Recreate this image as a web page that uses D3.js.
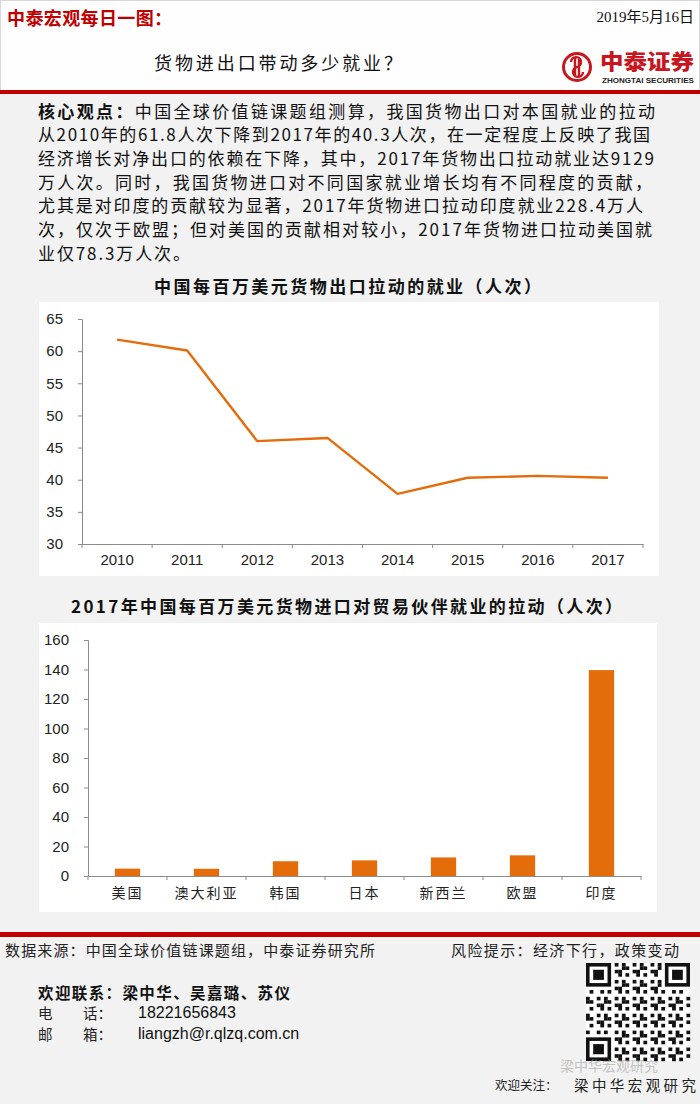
<!DOCTYPE html>
<html>
<head>
<meta charset="utf-8">
<script src="https://cdn.jsdelivr.net/npm/d3@7"></script>
<style>
  body { margin: 0; background: #f2f2f2; }
  text { font-family: "Noto Sans CJK SC", sans-serif; }
  .num { font-family: "Liberation Sans Narrow", "Liberation Sans", Arial, sans-serif; }
</style>
</head>
<body>
<div id="page"></div>
<script>
// chart 1: employment driven by each $1M of goods exports
var years = ["2010", "2011", "2012", "2013", "2014", "2015", "2016", "2017"];
var exportJobs = [61.8, 60.1, 46.0, 46.5, 37.8, 40.3, 40.6, 40.3];
var lineTicks = [30, 35, 40, 45, 50, 55, 60, 65];

// chart 2: partner employment driven by each $1M of goods imports (2017)
var partners = ["美国", "澳大利亚", "韩国", "日本", "新西兰", "欧盟", "印度"];
var importJobs = [5.0, 4.9, 10.0, 10.6, 12.6, 14.0, 139.6];
var barTicks = [0, 20, 40, 60, 80, 100, 120, 140, 160];

var summaryLines = [
  "核心观点：中国全球价值链课题组测算，我国货物出口对本国就业的拉动",
  "从2010年的61.8人次下降到2017年的40.3人次，在一定程度上反映了我国",
  "经济增长对净出口的依赖在下降，其中，2017年货物出口拉动就业达9129",
  "万人次。同时，我国货物进口对不同国家就业增长均有不同程度的贡献，",
  "尤其是对印度的贡献较为显著，2017年货物进口拉动印度就业228.4万人",
  "次，仅次于欧盟；但对美国的贡献相对较小，2017年货物进口拉动美国就",
  "业仅78.3万人次。"
];
var summaryEnds = [655, 650, 654, 652, 643, 652, 190];

var red = "#c00000";
var orange = "#E46C0A";
var axisGray = "#8c8c8c";

var svg = d3.select("#page").append("svg")
  .attr("width", 700)
  .attr("height", 1104);

// page background + header
svg.append("rect").attr("width", 700).attr("height", 1104).attr("fill", "#f2f2f2");
svg.append("rect").attr("x", 0.5).attr("y", 0.5).attr("width", 699).attr("height", 90)
  .attr("fill", "#fefefe").attr("stroke", "#d8d8d8");

svg.append("text").attr("x", 7).attr("y", 17).attr("dominant-baseline", "central")
  .attr("font-size", 18).attr("font-weight", "bold").attr("fill", red)
  .attr("textLength", 165).attr("lengthAdjust", "spacing")
  .text("中泰宏观每日一图：");

svg.append("text").attr("x", 694).attr("y", 17).attr("dominant-baseline", "central")
  .attr("text-anchor", "end").attr("font-size", 15).attr("fill", "#111")
  .style("font-family", "'Liberation Serif', 'Noto Sans CJK SC', serif")
  .text("2019年5月16日");

svg.append("text").attr("x", 154).attr("y", 62).attr("dominant-baseline", "central")
  .attr("font-size", 18).attr("fill", "#111")
  .attr("textLength", 248).attr("lengthAdjust", "spacing")
  .text("货物进出口带动多少就业？");

// logo
var logo = svg.append("g").attr("transform", "translate(577,67)");
logo.append("circle").attr("r", 13.5).attr("fill", "none").attr("stroke", "#c8161e").attr("stroke-width", 3);
logo.append("path")
  .attr("d", "M-6,-5 a5,5 0 1,1 6,5 a5,5 0 1,0 6,5 M-2,-9 L-2,9 M2,-9 L2,9")
  .attr("fill", "none").attr("stroke", "#c8161e").attr("stroke-width", 2.4);
svg.append("text").attr("x", 600).attr("y", 60).attr("dominant-baseline", "central")
  .attr("font-size", 21).attr("font-weight", "900").attr("fill", "#c8161e")
  .attr("textLength", 94).attr("lengthAdjust", "spacingAndGlyphs")
  .text("中泰证券");
svg.append("text").attr("x", 602).attr("y", 80).attr("dominant-baseline", "central")
  .attr("font-size", 8).attr("font-weight", "bold").attr("fill", "#222")
  .style("font-family", "'Liberation Sans', Arial, sans-serif")
  .attr("textLength", 92).attr("lengthAdjust", "spacingAndGlyphs")
  .text("ZHONGTAI SECURITIES");

// red rules
svg.append("rect").attr("x", 0).attr("y", 90).attr("width", 700).attr("height", 4).attr("fill", red);
svg.append("rect").attr("x", 0).attr("y", 932).attr("width", 700).attr("height", 5).attr("fill", red);

// summary paragraph
summaryLines.forEach(function(line, i) {
  var t = svg.append("text")
    .attr("x", 38)
    .attr("y", 110 + i * 23.7)
    .attr("dominant-baseline", "central")
    .attr("font-size", 17)
    .attr("fill", "#111")
    .attr("textLength", summaryEnds[i] - 38)
    .attr("lengthAdjust", "spacing");
  if (i === 0) {
    t.append("tspan").attr("font-weight", "bold").text(line.slice(0, 5));
    t.append("tspan").text(line.slice(5));
  } else {
    t.text(line);
  }
});

// ---------- line chart ----------
svg.append("text").attr("x", 154).attr("y", 285).attr("dominant-baseline", "central")
  .attr("font-size", 17).attr("font-weight", "bold").attr("fill", "#111")
  .attr("textLength", 387).attr("lengthAdjust", "spacing")
  .text("中国每百万美元货物出口拉动的就业（人次）");

svg.append("rect").attr("x", 39).attr("y", 302).attr("width", 620).attr("height", 274).attr("fill", "#fff");

var xLine = d3.scaleBand().domain(years).range([82, 643]);
var yLine = d3.scaleLinear().domain([30, 65]).range([544, 319]);

var yAxisLine = svg.append("g")
  .attr("transform", "translate(82,0)")
  .call(d3.axisLeft(yLine).tickValues(lineTicks).tickSize(4).tickPadding(15));
var xAxisLine = svg.append("g")
  .attr("transform", "translate(0,544)")
  .call(d3.axisBottom(xLine).tickSize(0).tickPadding(10));

// category boundary ticks on the x axis
svg.append("g").selectAll("line")
  .data(years.concat(["end"]))
  .enter().append("line")
  .attr("x1", function(d) { return d === "end" ? xLine.range()[1] : xLine(d); })
  .attr("x2", function(d) { return d === "end" ? xLine.range()[1] : xLine(d); })
  .attr("y1", 544).attr("y2", 548)
  .attr("stroke", axisGray);

var lineData = years.map(function(y, i) { return { year: y, value: exportJobs[i] }; });
svg.append("path")
  .datum(lineData)
  .attr("fill", "none")
  .attr("stroke", orange)
  .attr("stroke-width", 2.4)
  .attr("stroke-linejoin", "round")
  .attr("d", d3.line()
    .x(function(d) { return xLine(d.year) + xLine.bandwidth() / 2; })
    .y(function(d) { return yLine(d.value); }));

// ---------- bar chart ----------
svg.append("text").attr("x", 71).attr("y", 605).attr("dominant-baseline", "central")
  .attr("font-size", 17).attr("font-weight", "bold").attr("fill", "#111")
  .attr("textLength", 551).attr("lengthAdjust", "spacing")
  .text("2017年中国每百万美元货物进口对贸易伙伴就业的拉动（人次）");

svg.append("rect").attr("x", 39).attr("y", 623).attr("width", 618).attr("height", 289).attr("fill", "#fff");

var xBar = d3.scaleBand().domain(partners).range([88, 641]).paddingInner(0.68).paddingOuter(0.34);
var xBarOuter = d3.scaleBand().domain(partners).range([88, 641]);
var yBar = d3.scaleLinear().domain([0, 160]).range([876, 640]);

var yAxisBar = svg.append("g")
  .attr("transform", "translate(88,0)")
  .call(d3.axisLeft(yBar).tickValues(barTicks).tickSize(4).tickPadding(15));

svg.append("g").selectAll("rect")
  .data(partners)
  .enter().append("rect")
  .attr("x", function(d) { return xBar(d); })
  .attr("width", xBar.bandwidth())
  .attr("y", function(d, i) { return yBar(importJobs[i]); })
  .attr("height", function(d, i) { return yBar(0) - yBar(importJobs[i]); })
  .attr("fill", orange);

var xAxisBar = svg.append("g")
  .attr("transform", "translate(0,876)")
  .call(d3.axisBottom(xBarOuter).tickSize(0).tickPadding(12));

svg.append("g").selectAll("line")
  .data(partners.concat(["end"]))
  .enter().append("line")
  .attr("x1", function(d) { return d === "end" ? xBarOuter.range()[1] : xBarOuter(d); })
  .attr("x2", function(d) { return d === "end" ? xBarOuter.range()[1] : xBarOuter(d); })
  .attr("y1", 876).attr("y2", 880)
  .attr("stroke", axisGray);

// axis styling
[yAxisLine, xAxisLine, yAxisBar].forEach(function(g) {
  g.selectAll(".domain").attr("stroke", axisGray);
  g.selectAll(".tick line").attr("stroke", axisGray);
  g.selectAll(".tick text")
    .attr("class", "num")
    .attr("font-size", 15)
    .attr("fill", "#222");
});
xAxisBar.selectAll(".domain").attr("stroke", axisGray);
xAxisBar.selectAll(".tick text")
  .attr("font-size", 14)
  .attr("fill", "#222")
  .attr("letter-spacing", 2);

// ---------- footer ----------
svg.append("text").attr("x", 5).attr("y", 949).attr("dominant-baseline", "central")
  .attr("font-size", 15).attr("fill", "#222")
  .attr("textLength", 370).attr("lengthAdjust", "spacing")
  .text("数据来源：中国全球价值链课题组，中泰证券研究所");
svg.append("text").attr("x", 451).attr("y", 949).attr("dominant-baseline", "central")
  .attr("font-size", 15).attr("fill", "#222")
  .attr("textLength", 228).attr("lengthAdjust", "spacing")
  .text("风险提示：经济下行，政策变动");

svg.append("text").attr("x", 38).attr("y", 992).attr("dominant-baseline", "central")
  .attr("font-size", 15.5).attr("font-weight", "bold").attr("fill", "#111")
  .attr("textLength", 252).attr("lengthAdjust", "spacing")
  .text("欢迎联系：梁中华、吴嘉璐、苏仪");

var contacts = [["电", "话：", "18221656843", 1012], ["邮", "箱：", "liangzh@r.qlzq.com.cn", 1033]];
contacts.forEach(function(c) {
  svg.append("text").attr("x", 38).attr("y", c[3]).attr("dominant-baseline", "central")
    .attr("font-size", 14.5).attr("fill", "#222").text(c[0]);
  svg.append("text").attr("x", 83).attr("y", c[3]).attr("dominant-baseline", "central")
    .attr("font-size", 14.5).attr("fill", "#222").text(c[1]);
  svg.append("text").attr("x", 138).attr("y", c[3]).attr("dominant-baseline", "central")
    .attr("font-size", 16).attr("fill", "#111")
    .style("font-family", "'Liberation Sans Narrow', 'Liberation Sans', Arial, sans-serif")
    .text(c[2]);
});

// QR code block (decorative)
var qr = svg.append("g").attr("transform", "translate(586,963)");
var qrN = 29, cell = 104 / qrN;
qr.append("rect").attr("width", 104).attr("height", 98).attr("fill", "#fff");
var qrCells = [];
for (var i = 0; i < qrN; i++) {
  for (var j = 0; j < qrN; j++) {
    var inFinder = (i < 8 && j < 8) || (i < 8 && j >= qrN - 8) || (i >= qrN - 8 && j < 8);
    if (inFinder) continue;
    if (((i * 31 + j * 17 + i * j * 7) % 5) < 2) qrCells.push([i, j]);
  }
}
qr.selectAll(".c").data(qrCells).enter().append("rect")
  .attr("x", function(d) { return d[1] * cell; })
  .attr("y", function(d) { return d[0] * cell * 98 / 104; })
  .attr("width", cell + 0.2).attr("height", cell * 98 / 104 + 0.2)
  .attr("fill", "#111");
[[0, 0], [0, qrN - 7], [qrN - 7, 0]].forEach(function(p) {
  var gx = p[1] * cell, gy = p[0] * cell * 98 / 104, s = 7 * cell, sy = 7 * cell * 98 / 104;
  qr.append("rect").attr("x", gx + cell / 2).attr("y", gy + cell / 2).attr("width", s - cell).attr("height", sy - cell)
    .attr("fill", "#fff").attr("stroke", "#111").attr("stroke-width", cell);
  qr.append("rect").attr("x", gx + 2 * cell).attr("y", gy + 2 * cell * 98 / 104)
    .attr("width", 3 * cell).attr("height", 3 * cell * 98 / 104).attr("fill", "#111");
});

svg.append("text").attr("x", 560).attr("y", 1065).attr("dominant-baseline", "central")
  .attr("font-size", 14).attr("fill", "rgba(160,160,160,0.6)")
  .text("梁中华宏观研究");

svg.append("text").attr("x", 495).attr("y", 1084).attr("dominant-baseline", "central")
  .attr("font-size", 12.5).attr("fill", "#222")
  .text("欢迎关注：");
svg.append("text").attr("x", 574).attr("y", 1084).attr("dominant-baseline", "central")
  .attr("font-size", 14.5).attr("fill", "#222")
  .attr("textLength", 122).attr("lengthAdjust", "spacing")
  .text("梁中华宏观研究");
</script>
</body>
</html>
